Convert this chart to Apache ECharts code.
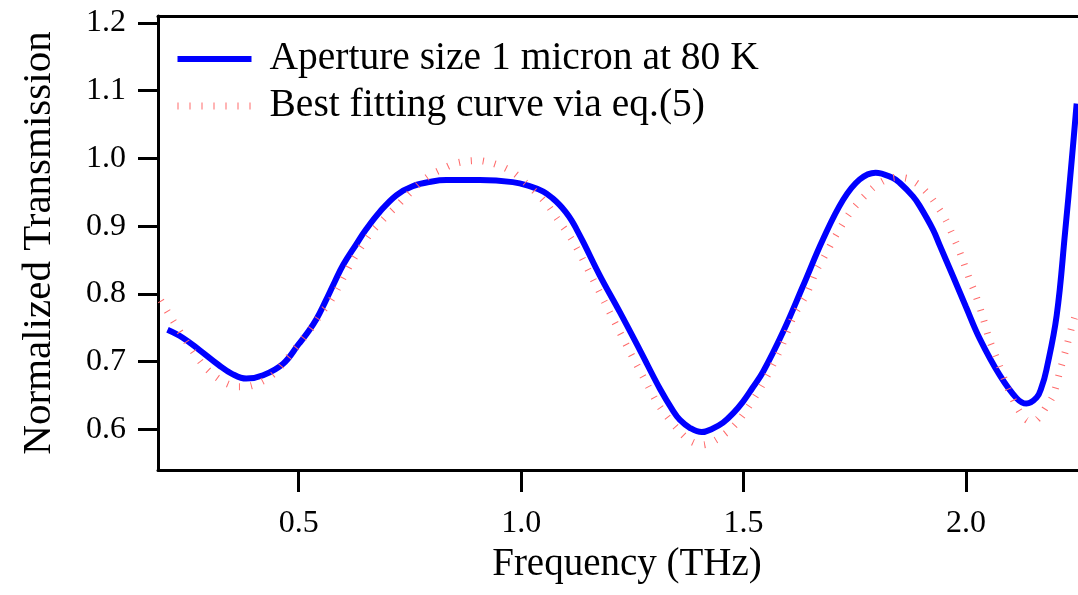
<!DOCTYPE html>
<html lang="en">
<head>
    <meta charset="UTF-8">
    <title>Normalized Transmission</title>
    <script src="https://cdn.jsdelivr.net/npm/echarts@6/dist/echarts.min.js"></script>
    <style>
        html, body { margin: 0; padding: 0; background: #fff; }
        #chart { width: 1078px; height: 595px; }
    </style>
</head>
<body>
    <div id="chart"></div>
    <script>
        // measured curve (blue)
        var freqMeas = [0.205, 0.24, 0.277, 0.32, 0.35, 0.382, 0.42, 0.465, 0.50, 0.52,
            0.54, 0.56, 0.581, 0.60, 0.63, 0.65, 0.682, 0.72, 0.756, 0.80,
            0.832, 0.907, 0.981, 1.019, 1.05, 1.071, 1.087, 1.10, 1.113, 1.125,
            1.14, 1.177, 1.222, 1.267, 1.312, 1.342, 1.357, 1.38, 1.406, 1.43,
            1.454, 1.477, 1.499, 1.52, 1.544, 1.589, 1.634, 1.679, 1.724, 1.761,
            1.797, 1.836, 1.851, 1.881, 1.896, 1.926, 1.941, 1.971, 2.0, 2.031,
            2.076, 2.114, 2.136, 2.159, 2.17, 2.181, 2.204, 2.223, 2.238, 2.249];
        var transMeas = [0.747, 0.735, 0.717, 0.695, 0.682, 0.675, 0.680, 0.697, 0.726, 0.743,
            0.763, 0.789, 0.818, 0.843, 0.874, 0.894, 0.921, 0.946, 0.959, 0.966,
            0.968, 0.968, 0.965, 0.959, 0.951, 0.941, 0.931, 0.921, 0.909, 0.895,
            0.876, 0.827, 0.773, 0.717, 0.660, 0.627, 0.614, 0.602, 0.596, 0.601,
            0.610, 0.624, 0.641, 0.661, 0.685, 0.744, 0.812, 0.881, 0.939, 0.969,
            0.979, 0.971, 0.964, 0.944, 0.930, 0.895, 0.872, 0.826, 0.781, 0.734,
            0.680, 0.646, 0.638, 0.647, 0.662, 0.688, 0.768, 0.891, 0.998, 1.081];

        // fitted curve (red dotted)
        var freqFit = [0.19, 0.214, 0.247, 0.285, 0.311, 0.337, 0.364, 0.390, 0.418, 0.444,
            0.468, 0.491, 0.511, 0.532, 0.551, 0.570, 0.585, 0.62, 0.66, 0.69,
            0.716, 0.742, 0.768, 0.795, 0.822, 0.849, 0.877, 0.903, 0.930, 0.957,
            0.983, 1.010, 1.036, 1.061, 1.080, 1.117, 1.158, 1.199, 1.240, 1.282,
            1.312, 1.355, 1.38, 1.408, 1.44, 1.484, 1.537, 1.582, 1.612, 1.642,
            1.664, 1.679, 1.709, 1.743, 1.790, 1.818, 1.845, 1.870, 1.896, 1.921,
            1.940, 1.955, 1.968, 1.980, 1.990, 2.009, 2.020, 2.037, 2.052, 2.073,
            2.093, 2.118, 2.136, 2.15, 2.162, 2.181, 2.196, 2.211, 2.226, 2.240,
            2.252];
        var transFit = [0.790, 0.764, 0.730, 0.695, 0.679, 0.668, 0.663, 0.664, 0.671, 0.682,
            0.700, 0.718, 0.735, 0.753, 0.772, 0.788, 0.805, 0.848, 0.888, 0.910,
            0.927, 0.944, 0.961, 0.975, 0.984, 0.992, 0.996, 0.997, 0.994, 0.988,
            0.979, 0.964, 0.948, 0.930, 0.912, 0.877, 0.826, 0.773, 0.720, 0.668,
            0.633, 0.598, 0.583, 0.577, 0.585, 0.609, 0.660, 0.717, 0.766, 0.800,
            0.835, 0.852, 0.888, 0.923, 0.956, 0.968, 0.972, 0.970, 0.960, 0.943,
            0.925, 0.909, 0.890, 0.872, 0.855, 0.820, 0.802, 0.768, 0.734, 0.698,
            0.663, 0.629, 0.614, 0.612, 0.616, 0.634, 0.650, 0.685, 0.721, 0.756,
            0.780];

        var xTicks = [0.5, 1.0, 1.5, 2.0];
        var yTicks = [0.6, 0.7, 0.8, 0.9, 1.0, 1.1, 1.2];

        var seriesNames = ['Aperture size 1 micron at 80 K', 'Best fitting curve via eq.(5)'];

        function pairs(xs, ys) {
            var out = [];
            for (var i = 0; i < xs.length; i++) {
                out.push([xs[i], ys[i]]);
            }
            return out;
        }

        var font = 'Liberation Serif';
        var myChart = echarts.init(document.getElementById('chart'));

        var option = {
            animation: false,
            backgroundColor: '#fff',
            grid: {
                left: 158,
                right: 0,
                top: 16,
                bottom: 125
            },
            legend: {
                orient: 'vertical',
                left: 174,
                top: 39,
                padding: 0,
                itemWidth: 74,
                itemHeight: 20,
                itemGap: 7,
                textStyle: {
                    fontFamily: font,
                    fontSize: 39.5,
                    color: '#000',
                    padding: [0, 0, 0, 13]
                },
                data: [
                    {
                        name: seriesNames[0],
                        itemStyle: { color: 'transparent', borderWidth: 0 },
                        lineStyle: { width: 6, color: '#0000ff' }
                    },
                    {
                        name: seriesNames[1],
                        itemStyle: { color: 'transparent', borderWidth: 0 },
                        lineStyle: { width: 7, color: '#ff6a6a', type: [1, 11] }
                    }
                ]
            },
            xAxis: [
                {
                    type: 'value',
                    min: 0.1836,
                    max: 2.252,
                    position: 'bottom',
                    name: 'Frequency (THz)',
                    nameLocation: 'middle',
                    nameGap: 70,
                    nameTextStyle: {
                        fontFamily: font,
                        fontSize: 39,
                        color: '#000',
                        padding: [0, 0, 0, 18]
                    },
                    axisLine: { show: true, onZero: false, lineStyle: { color: '#000', width: 3 } },
                    axisTick: {
                        show: true,
                        inside: false,
                        length: 22,
                        customValues: xTicks,
                        lineStyle: { color: '#000', width: 3 }
                    },
                    axisLabel: {
                        customValues: xTicks,
                        margin: 38,
                        fontFamily: font,
                        fontSize: 32,
                        color: '#000',
                        formatter: function (v) { return v.toFixed(1); }
                    },
                    splitLine: { show: false }
                },
                {
                    // top frame line
                    type: 'value',
                    min: 0.1836,
                    max: 2.252,
                    position: 'top',
                    axisLine: { show: true, onZero: false, lineStyle: { color: '#000', width: 3 } },
                    axisTick: { show: false },
                    axisLabel: { show: false },
                    splitLine: { show: false }
                }
            ],
            yAxis: {
                type: 'value',
                min: 0.540,
                max: 1.2103,
                name: 'Normalized Transmission',
                nameLocation: 'middle',
                nameGap: 98,
                nameTextStyle: { fontFamily: font, fontSize: 41, color: '#000' },
                axisLine: { show: true, onZero: false, lineStyle: { color: '#000', width: 3 } },
                axisTick: {
                    show: true,
                    inside: false,
                    length: 20,
                    customValues: yTicks,
                    lineStyle: { color: '#000', width: 3 }
                },
                axisLabel: {
                    customValues: yTicks,
                    margin: 32,
                    fontFamily: font,
                    fontSize: 32,
                    color: '#000',
                    formatter: function (v) { return v.toFixed(1); }
                },
                splitLine: { show: false }
            },
            series: [
                {
                    name: seriesNames[0],
                    type: 'line',
                    symbol: 'none',
                    smooth: 0.4,
                    clip: true,
                    lineStyle: { color: '#0000ff', width: 6 },
                    itemStyle: { color: '#0000ff' },
                    data: pairs(freqMeas, transMeas)
                },
                {
                    name: seriesNames[1],
                    type: 'line',
                    symbol: 'none',
                    smooth: 0.3,
                    clip: true,
                    lineStyle: { color: '#ff6a6a', width: 7, type: [1, 11] },
                    itemStyle: { color: '#ff6a6a' },
                    data: pairs(freqFit, transFit)
                }
            ]
        };

        myChart.setOption(option);
    </script>
</body>
</html>
